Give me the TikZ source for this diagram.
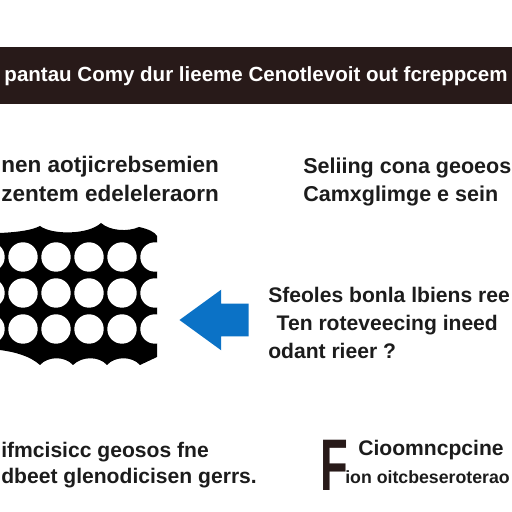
\documentclass[tikz,border=0pt]{standalone}
\usepackage{fontspec}
\setmainfont{Liberation Sans}
\usepackage{xcolor}
\usetikzlibrary{positioning,shapes.arrows}
\definecolor{barbrown}{HTML}{281A19}
\definecolor{arrowblue}{HTML}{0B72C6}
\definecolor{inkgray}{HTML}{1C1C1C}

\begin{document}
\begin{tikzpicture}[x=0.025cm, y=0.025cm,
  font=\fontsize{15}{20}\selectfont\bfseries,
  txt/.style={anchor=west, inner sep=0pt, align=left, text=inkgray},
  hole/.style={fill=white, draw=none},
  blockarrow/.style={single arrow, fill=arrowblue, draw=none, shape border rotate=180,
    inner xsep=0pt, inner ysep=0.4cm, minimum height=1.725cm,
    single arrow head extend=0.35cm, single arrow tip angle=72}]
\useasboundingbox[fill=white] (0,0) rectangle (512,512);
\clip (0,0) rectangle (512,512);
% title bar
\fill[barbrown] (0,408) rectangle (512,465);
\node[inner sep=0pt, text=white, font=\fontsize{14.6}{18}\selectfont\bfseries] (title) at (256,436) {pantau Comy dur lieeme Cenotlevoit out fcreppcem};
% upper captions
\node[txt, font=\fontsize{16}{20}\selectfont\bfseries] (capleft) at (1,333) {nen aotjicrebsemien\\zentem edeleleraorn};
\node[txt, font=\fontsize{15.3}{19.5}\selectfont\bfseries] (capright) at (303,330) {Seliing cona geoeos\\ Camxglimge e sein};
% perforated sheet
\fill[black] (0,279) .. controls (20,280) and (32,282) .. (40,286)
  .. controls (52,277) and (88,277) .. (101,289)
  .. controls (110,281) and (128,280) .. (139,285)
  .. controls (148,283) and (155,280) .. (157,276)
  -- (157,155) -- (140,147)
  .. controls (132,156) and (115,156) .. (107,147)
  .. controls (99,156) and (82,156) .. (73,147)
  .. controls (65,156) and (48,156) .. (40,147)
  .. controls (30,156) and (15,160) .. (0,162) -- cycle;
\foreach \cx in {-10,23,56,89,122,155}
  \foreach \cy in {255,219,183}
    \fill[hole] (\cx,\cy) circle (14.7);
% arrow and its note
\node[blockarrow, anchor=tip] (push) at (179,192) {};
\node[txt] (note) at (268,189) {Sfeoles bonla lbiens ree\\\hspace*{6pt}Ten roteveecing ineed\\odant rieer ?};
% lower captions
\node[txt, font=\fontsize{15}{19}\selectfont\bfseries] (footleft) at (1,47) {ifmcisicc geosos fne\\dbeet glenodicisen gerrs.};
\node[inner sep=0pt, text=barbrown, xscale=0.62, font=\fontsize{52}{52}\selectfont\bfseries] (bigF) at (334,47) {F};
\node[txt, anchor=base west] (footright1) at (358,56) {Cioomncpcine};
\node[txt, anchor=base west, font=\fontsize{12.6}{16}\selectfont\bfseries] (footright2) at (345,28) {ion oitcbeseroterao};
\end{tikzpicture}
\end{document}
